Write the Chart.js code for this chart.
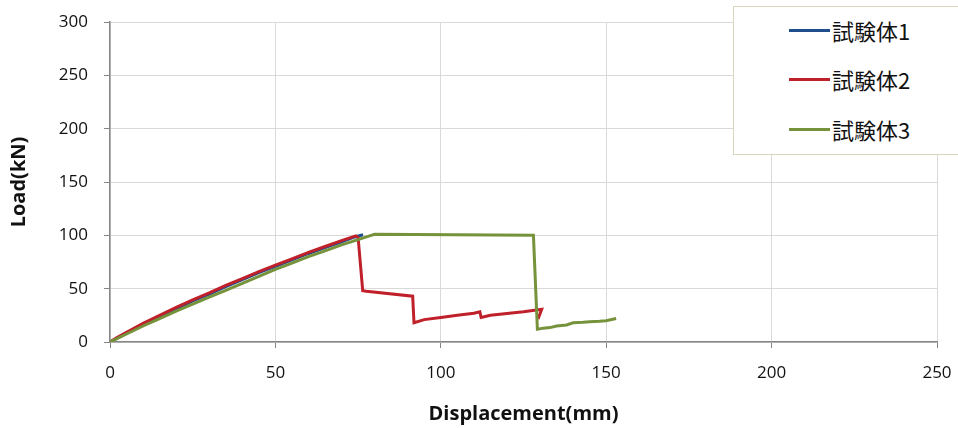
<!DOCTYPE html>
<html>
<head>
<meta charset="utf-8">
<script src="https://cdn.jsdelivr.net/npm/chart.js@4/dist/chart.umd.min.js"></script>
<style>
  html, body { margin: 0; padding: 0; background: #fff; }
  #wrap { position: relative; width: 958px; height: 428px; }
  #legend {
    position: absolute; left: 733px; top: 6px; width: 240px; height: 149px;
    background: #fff; border: 1.5px solid #d9d5bf; box-sizing: border-box;
    font-family: 'Noto Sans CJK JP', 'Open Sans', sans-serif; font-size: 22px; color: #111;
  }
  .item { position: absolute; left: 55px; height: 28px; display: flex; align-items: center; }
  .item i { display: inline-block; width: 41px; height: 3px; margin-right: 2px; }
</style>
</head>
<body>
<div id="wrap">
  <canvas id="c" width="958" height="428"></canvas>
  <div id="legend"></div>
</div>
<script>
const SERIES_NAMES = ['試験体1', '試験体2', '試験体3'];
const SERIES_COLORS = ['#1f4e8c', '#c0202a', '#76933c'];

// 試験体1
const s1X = [0, 2, 5, 10, 15, 20, 25, 30, 35, 40, 45, 50, 55, 60, 65, 70, 74, 76.5];
const s1Y = [0, 3.5, 8.5, 16.5, 24, 31, 38.5, 45, 52, 58.5, 65, 71, 77, 83, 88.5, 94, 98.5, 100.5];

// 試験体2
const s2X = [0, 2, 5, 10, 15, 20, 25, 30, 35, 40, 45, 50, 55, 60, 65, 70, 74.3, 75, 76.4, 77.5, 91.5, 91.9,
             95, 100, 105, 110, 111.8, 112.2, 115, 120, 125, 130.5, 129.4];
const s2Y = [0, 4, 9, 17.5, 25, 32.5, 39.5, 46, 53, 59.5, 66, 72, 78, 84, 89.5, 95, 99.5, 98, 48, 47.5, 43, 18,
             21, 23, 25, 27, 28.4, 23, 25, 26.8, 28.3, 30.6, 21.5];

// 試験体3
const s3X = [0, 2, 5, 10, 15, 20, 25, 30, 35, 40, 45, 50, 55, 60, 65, 70, 75, 78, 80, 128, 129.2,
             131, 133, 135, 138, 140, 143, 145, 148, 150, 153];
const s3Y = [0, 3, 7.5, 15, 22, 29, 35.5, 42, 48.5, 55, 61.5, 68, 74, 80, 85.5, 91, 96, 99, 101, 100, 12,
             13, 13.5, 15, 16, 18, 18.5, 19, 19.5, 20, 22];

const X_TICKS = [0, 50, 100, 150, 200, 250];
const Y_TICKS = [0, 50, 100, 150, 200, 250, 300];

const toPts = (xs, ys) => xs.map((x, i) => ({ x, y: ys[i] }));
const allX = [s1X, s2X, s3X];
const allY = [s1Y, s2Y, s3Y];

const FONT = "'Open Sans', 'Noto Sans', sans-serif";

new Chart(document.getElementById('c'), {
  type: 'line',
  data: {
    datasets: SERIES_NAMES.map((name, i) => ({
      label: name,
      data: toPts(allX[i], allY[i]),
      borderColor: SERIES_COLORS[i],
      backgroundColor: SERIES_COLORS[i],
      borderWidth: 3,
      pointRadius: 0,
      tension: 0,
      order: 3 - i,
    }))
  },
  options: {
    responsive: false,
    animation: false,
    layout: { padding: { left: 7, right: 21, top: 22, bottom: 2 } },
    plugins: { legend: { display: false }, tooltip: { enabled: false } },
    scales: {
      x: {
        type: 'linear', min: 0, max: 250,
        afterBuildTicks: s => { s.ticks = X_TICKS.map(v => ({ value: v })); },
        afterFit: s => { s.height = 84; s.paddingLeft = 0; s.paddingRight = 0; },
        grid: { color: '#d9d9d9', tickColor: '#868686', tickLength: 6, lineWidth: 1 },
        border: { color: '#868686', width: 1.5 },
        ticks: { color: '#111', font: { family: FONT, size: 17 }, padding: 15, maxRotation: 0 },
        title: { display: true, text: 'Displacement(mm)', color: '#111',
                 font: { family: FONT, size: 20, weight: 'bold' }, padding: { top: 4, bottom: 0 } }
      },
      y: {
        min: 0, max: 300,
        afterBuildTicks: s => { s.ticks = Y_TICKS.map(v => ({ value: v })); },
        afterFit: s => { s.width = 103; s.paddingTop = 0; s.paddingBottom = 0; },
        grid: { color: '#d9d9d9', tickColor: '#868686', tickLength: 6, lineWidth: 1 },
        border: { color: '#868686', width: 1.5 },
        ticks: { color: '#111', font: { family: FONT, size: 17 }, padding: 16 },
        title: { display: true, text: 'Load(kN)', color: '#111',
                 font: { family: FONT, size: 20, weight: 'bold' }, padding: { top: 0, bottom: 0 } }
      }
    }
  }
});

const legend = document.getElementById('legend');
const LEGEND_TOPS = [9, 58, 108];
SERIES_NAMES.forEach((name, i) => {
  const d = document.createElement('div');
  d.className = 'item';
  d.style.top = LEGEND_TOPS[i] + 'px';
  d.innerHTML = `<i style="background:${SERIES_COLORS[i]}"></i><span>${name}</span>`;
  legend.appendChild(d);
});
</script>
</body>
</html>
